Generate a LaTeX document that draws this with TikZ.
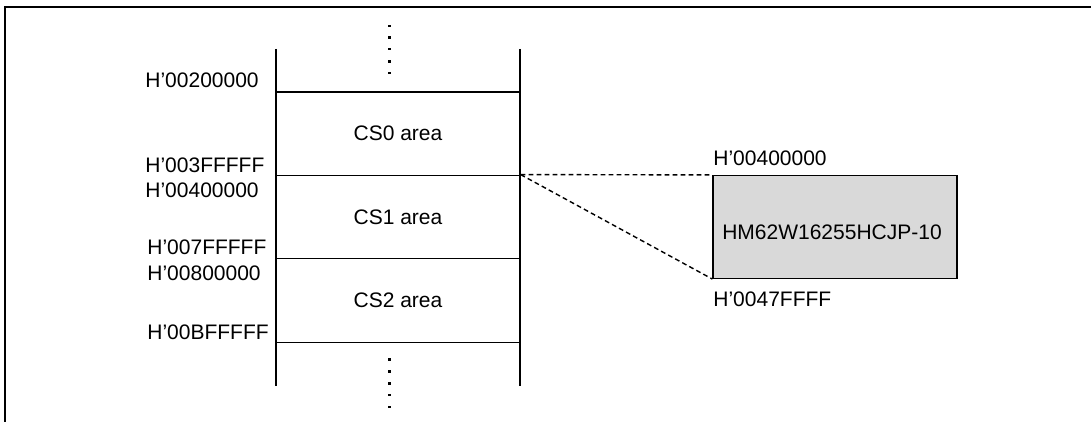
\documentclass[tikz,border=0pt]{standalone}
\usepackage{fontspec}
\setmainfont{Liberation Sans}
\begin{document}
\begin{tikzpicture}[x=0.5pt,y=-0.5pt,
  every node/.style={font=\fontsize{10.5pt}{12pt}\selectfont},
  area/.style={draw,line width=0.65pt,minimum width=122pt,minimum height=41.75pt,inner sep=0pt},
  addr/.style={anchor=base west,inner sep=0pt},
  chip/.style={draw,line width=0.6pt,fill=black!15,minimum width=122pt,minimum height=51.5pt,inner sep=0pt},
  link/.style={dash pattern=on 2.4pt off 1.6pt,line width=0.7pt},
  dot/.style={fill=black,inner sep=0pt,minimum size=1.1pt},
  wall/.style={line width=0.8pt},
  frame/.style={line width=1pt}]
\useasboundingbox (0,0) rectangle (1091,422);
% frame (top and left edges)
\coordinate (ftl) at (5,7);
\coordinate (ftr) at (1091,7);
\coordinate (fbl) at (5,422);
\draw[frame] (ftr) -- (ftl) -- (fbl);
% memory areas
\node[area] (cs0) at (398,133.5) {CS0 area};
\node[area] (cs1) at (398,217) {CS1 area};
\node[area] (cs2) at (398,300.5) {CS2 area};
% column walls
\coordinate (wlt) at (276,49);
\coordinate (wlb) at (276,386);
\coordinate (wrt) at (520,49);
\coordinate (wrb) at (520,386);
\draw[wall] (wlt) -- (wlb);
\draw[wall] (wrt) -- (wrb);
\coordinate (top) at (276,92);
\coordinate (topr) at (520,92);
\coordinate (bot) at (276,342.5);
\coordinate (botr) at (520,342.5);
\draw[line width=0.65pt] (top) -- (topr);
\draw[line width=0.65pt] (bot) -- (botr);
% dots
\foreach \y [count=\i] in {26,37.5,49,61.5,73}
  \node[dot] (dt\i) at (389.5,\y) {};
\foreach \y [count=\i] in {359.5,371.5,383.5,395,407}
  \node[dot] (db\i) at (389.5,\y) {};
% addresses
\node[addr] (a1) at (145,87.5) {H’00200000};
\node[addr] (a2) at (145,172.5) {H’003FFFFF};
\node[addr] (a3) at (145,197.5) {H’00400000};
\node[addr] (a4) at (147,254.5) {H’007FFFFF};
\node[addr] (a5) at (147,280.5) {H’00800000};
\node[addr] (a6) at (147,339.5) {H’00BFFFFF};
% chip
\node[chip] (chip) at (835,227) {};
\node[anchor=base,inner sep=0pt] (chipname) at (832,240) {HM62W16255HCJP-10};
\node[addr] (c1) at (713,166) {H’00400000};
\node[addr] (c2) at (713,306.5) {H’0047FFFF};
\draw[link] (cs1.north east) -- (chip.north west);
\draw[link] (cs1.north east) -- (chip.south west);
\end{tikzpicture}
\end{document}
